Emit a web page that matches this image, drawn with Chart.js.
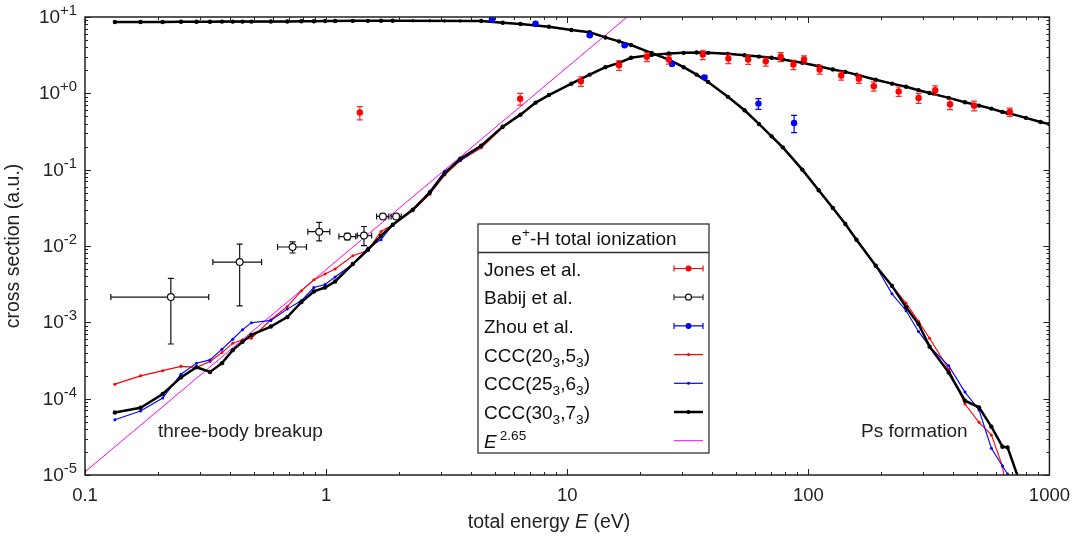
<!DOCTYPE html>
<html>
<head>
<meta charset="utf-8">
<title>e+-H total ionization</title>
<style>
  body { margin: 0; background: #fff; }
</style>
</head>
<body>
<canvas id="myChart" width="1080" height="536"></canvas>
<script src="https://cdn.jsdelivr.net/npm/chart.js@4.4.0/dist/chart.umd.min.js"></script>
<script>
// total energies (eV) of the CCC calculations
const energies = [0.133, 0.17, 0.21, 0.25, 0.29, 0.33, 0.37, 0.41, 0.45, 0.49,
  0.59, 0.69, 0.79, 0.89, 0.99, 1.09, 1.29, 1.49, 1.69, 1.89,
  2.29, 2.69, 3.1, 3.6, 4.4, 5.4, 6.4, 7.4, 8.4, 10.4,
  12.4, 14.4, 16.4, 18.4, 22.4, 26.4, 30.4, 34.4, 38.4, 46.4,
  54.4, 62.4, 70.4, 78.4, 94.4, 110.4, 126.4, 142.4, 158.4, 190.4,
  222.4, 254.4, 286.4, 318.4, 382.4, 446.4, 510.4, 574.4, 638.4, 670.4,
  798.4, 918.4, 1000];

// CCC(30,7) - ionization and Ps formation
const ion30 = [6.6e-5, 7.6e-5, 1.15e-4, 1.9e-4, 2.58e-4, 2.24e-4, 2.92e-4, 4.32e-4, 5.55e-4, 6.85e-4,
  8.8e-4, 1.17e-3, 1.84e-3, 2.54e-3, 2.86e-3, 3.43e-3, 5.8e-3, 8.9e-3, 1.36e-2, 1.9e-2,
  3.0e-2, 5.0e-2, 8.9e-2, 0.139, 0.206, 0.366, 0.526, 0.756, 0.949, 1.34,
  1.76, 2.2, 2.51, 2.92, 3.19, 3.32, 3.39, 3.42, 3.39, 3.29,
  3.15, 3.03, 2.92, 2.77, 2.51, 2.26, 2.05, 1.91, 1.76, 1.51,
  1.34, 1.22, 1.1, 1.01, 0.871, 0.763, 0.691, 0.631, 0.571, 0.554,
  0.477, 0.422, 0.395];
const ps30 = [8.6, 8.6, 8.6, 8.65, 8.65, 8.65, 8.7, 8.7, 8.7, 8.7,
  8.75, 8.75, 8.8, 8.8, 8.85, 8.85, 8.9, 8.9, 8.95, 8.95,
  null, null, null, null, 8.85, 8.4, 8.1, null, 7.45, 6.75,
  6.3, 5.4, 4.8, 4.3, 3.37, 2.77, 2.2, 1.76, 1.41, 0.9,
  0.6, 0.397, 0.273, 0.196, 0.1, 0.0538, 0.0315, 0.0194, 0.0121, 5.5e-3,
  3.0e-3, 1.58e-3, 9.5e-4, 4.8e-4, 2.2e-4, 9.4e-5, 7.7e-5, 4.3e-5, 2.35e-5, 2.3e-5,
  4.8e-6, null, null];

// CCC(20,5)
const ion20 = [1.55e-4, 1.99e-4, 2.33e-4, 2.65e-4, 2.57e-4, 3.06e-4, 4.02e-4, 5.33e-4, 5.9e-4, 6.2e-4,
  1.08e-3, 1.61e-3, 2.59e-3, 3.61e-3, 4.29e-3, 4.99e-3, 7.45e-3, 8.75e-3, 1.55e-2, 1.9e-2,
  2.9e-2, 4.77e-2, 8.5e-2, 0.131, 0.194, 0.355, 0.52, 0.75, 0.95, 1.33,
  1.76, 2.2, 2.5, 2.9, 3.18, 3.31, 3.38, 3.41, 3.38, 3.28,
  3.15, 3.03, 2.92, 2.77, 2.51, 2.26, 2.05, 1.91, 1.76, 1.51,
  1.34, 1.22, 1.1, 1.01, 0.871, 0.763, 0.691, 0.631, 0.571, 0.554,
  0.477, 0.422, 0.395];
const ps20 = [8.6, 8.6, 8.6, 8.65, 8.65, 8.65, 8.7, 8.7, 8.7, 8.7,
  8.75, 8.75, 8.8, 8.8, 8.85, 8.85, 8.9, 8.9, 8.95, 8.95,
  8.95, 8.95, 8.9, 8.9, 8.85, 8.4, 8.1, 7.8, 7.45, 6.75,
  6.3, 5.4, 4.8, 4.3, 3.37, 2.77, 2.2, 1.76, 1.41, 0.9,
  0.6, 0.397, 0.273, 0.196, 0.1, 0.0538, 0.0315, 0.0194, 0.0121, 5.5e-3,
  3.0e-3, 1.79e-3, 1.03e-3, 6.2e-4, 2.43e-4, 8.5e-5, 4.9e-5, 3.35e-5, 1.31e-5, 5e-6,
  null, null, null];

// CCC(25,6)
const ion25 = [5.3e-5, 6.9e-5, 1.02e-4, 2.09e-4, 2.92e-4, 3.22e-4, 4.45e-4, 6.0e-4, 8.0e-4, 9.9e-4,
  1.06e-3, 1.49e-3, 1.93e-3, 2.86e-3, 3.13e-3, 3.92e-3, 5.8e-3, 9.4e-3, 1.21e-2, 1.9e-2,
  3.0e-2, 5.2e-2, 9.5e-2, 0.132, 0.202, 0.366, 0.526, 0.756, 0.949, 1.34,
  1.76, 2.2, 2.51, 2.92, 3.19, 3.32, 3.39, 3.42, 3.39, 3.29,
  3.15, 3.03, 2.92, 2.77, 2.51, 2.26, 2.05, 1.91, 1.76, 1.51,
  1.34, 1.22, 1.1, 1.01, 0.871, 0.763, 0.691, 0.631, 0.571, 0.554,
  0.477, 0.422, 0.395];
const ps25 = [8.55, 8.55, 8.55, 8.6, 8.6, 8.6, 8.65, 8.65, 8.65, 8.65,
  8.7, 8.7, 8.75, 8.75, 8.8, 8.8, 8.85, 8.85, 8.9, 8.9,
  8.9, 8.9, 8.85, 8.85, 8.8, 8.4, 8.1, 7.8, 7.45, 6.75,
  6.3, 5.4, 4.8, 4.3, 3.37, 2.77, 2.2, 1.76, 1.41, 0.9,
  0.6, 0.397, 0.273, 0.196, 0.1, 0.0538, 0.0315, 0.0194, 0.0121, 5.5e-3,
  2.36e-3, 1.42e-3, 7.6e-4, 4.8e-4, 2.69e-4, 1.22e-4, 7.1e-5, 2.24e-5, 1.31e-5, 1.03e-5,
  3e-6, null, null];

// E^2.65 guide line (end points)
const powE = [0.1, 20];
const powS = [1.1e-5, 13.8];

// Jones et al.
const jonesE = [1.38, 6.38, 11.4, 16.4, 21.4, 26.4, 36.5, 46.6, 56.3, 66.6, 76.8, 86.7,
  96, 111.4, 136.9, 162, 186.9, 237, 286.7, 336, 387, 487, 685];
const jonesS = [0.56, 0.85, 1.44, 2.33, 3.01, 2.77, 3.22, 2.85, 2.77, 2.63, 3.01, 2.38,
  2.77, 2.05, 1.71, 1.55, 1.24, 1.06, 0.87, 1.1, 0.72, 0.69, 0.57];
const jonesErr = [0.11, 0.15, 0.21, 0.34, 0.4, 0.35, 0.45, 0.4, 0.38, 0.36, 0.4, 0.33,
  0.33, 0.27, 0.22, 0.2, 0.17, 0.15, 0.13, 0.15, 0.11, 0.1, 0.07];

// Babij et al.
const babijE = [0.227, 0.438, 0.726, 0.936, 1.225, 1.436, 1.72, 1.952];
const babijS = [2.14e-3, 6.16e-3, 9.7e-3, 1.54e-2, 1.33e-2, 1.37e-2, 2.44e-2, 2.44e-2];
const babijELo = [0.128, 0.339, 0.629, 0.84, 1.13, 1.347, 1.62, 1.86];
const babijEHi = [0.326, 0.54, 0.829, 1.036, 1.327, 1.545, 1.82, 2.05];
const babijSLo = [5.2e-4, 1.64e-3, 8.1e-3, 1.17e-2, 1.2e-2, 1.01e-2, 2.3e-2, 2.3e-2];
const babijSHi = [3.76e-3, 1.06e-2, 1.13e-2, 2.04e-2, 1.47e-2, 1.8e-2, 2.6e-2, 2.6e-2];

// Zhou et al.
const zhouE = [4.87, 7.39, 12.4, 17.3, 27.2, 37.1, 62.1, 87.3];
const zhouS = [9.18, 8.14, 5.77, 4.27, 2.43, 1.62, 0.734, 0.409];
const zhouErr = [0.3, 0.25, 0.2, 0.15, 0.1, 0.08, 0.117, 0.104];

const yTicks = [-5, -4, -3, -2, -1, 0, 1];

const FONT = '"Liberation Sans", Arial, Helvetica, sans-serif';
const RED = '#ff0000', BLUE = '#0000ff', MAG = '#ff00ff';
const TXT = 19;

function pairs(xs, ys) {
  let out = [];
  xs.forEach((x, i) => { if (ys[i] != null) out.push({x: x, y: ys[i]}) });
  return out;
}

function curve(label, ys, color, lw, pr, order) {
  return {
    label: label, data: pairs(energies, ys), showLine: true,
    borderColor: color, backgroundColor: color, borderWidth: lw,
    pointRadius: pr, pointBorderWidth: 0, pointHoverRadius: pr, order: order
  };
}

const errBars = {
  'Jones et al.': { color: 'rgba(255,0,0,0.85)', bars: jonesE.map((e, i) => ({x: e, y: jonesS[i], y0: jonesS[i] - jonesErr[i], y1: jonesS[i] + jonesErr[i]})) },
  'Zhou et al.': { color: BLUE, bars: zhouE.map((e, i) => ({x: e, y: zhouS[i], y0: zhouS[i] - zhouErr[i], y1: zhouS[i] + zhouErr[i]})) },
  'Babij et al.': { color: '#111', bars: babijE.map((e, i) => ({x: e, y: babijS[i], x0: babijELo[i], x1: babijEHi[i], y0: babijSLo[i], y1: babijSHi[i]})) }
};

// text with super/subscripts
function richWidth(ctx, parts, size) {
  let w = 0;
  parts.forEach(p => {
    ctx.font = (p.it ? 'italic ' : '') + (size * (p.s || 1)) + 'px ' + FONT;
    w += ctx.measureText(p.t).width + (p.gap || 0);
  });
  return w;
}
function drawRich(ctx, parts, x, y, size, align) {
  let w = richWidth(ctx, parts, size);
  if (align === 'right') x -= w;
  if (align === 'center') x -= w / 2;
  ctx.textAlign = 'left';
  ctx.textBaseline = 'alphabetic';
  parts.forEach(p => {
    ctx.font = (p.it ? 'italic ' : '') + (size * (p.s || 1)) + 'px ' + FONT;
    ctx.fillText(p.t, x, y + (p.dy || 0));
    x += ctx.measureText(p.t).width + (p.gap || 0);
  });
}

const errPlugin = {
  id: 'errbars',
  beforeDatasetDraw(chart, args) {
    const ds = chart.data.datasets[args.index];
    const eb = errBars[ds.label];
    if (!eb) return;
    const ctx = chart.ctx, xs = chart.scales.x, ys = chart.scales.y, c = 3;
    ctx.save();
    ctx.strokeStyle = eb.color;
    ctx.lineWidth = 1.2;
    ctx.beginPath();
    eb.bars.forEach(b => {
      const px = xs.getPixelForValue(b.x), py = ys.getPixelForValue(b.y);
      const a = ys.getPixelForValue(b.y0), t = ys.getPixelForValue(b.y1);
      ctx.moveTo(px, a); ctx.lineTo(px, t);
      ctx.moveTo(px - c, a); ctx.lineTo(px + c, a);
      ctx.moveTo(px - c, t); ctx.lineTo(px + c, t);
      if (b.x0 != null) {
        const l = xs.getPixelForValue(b.x0), r = xs.getPixelForValue(b.x1);
        ctx.moveTo(l, py); ctx.lineTo(r, py);
        ctx.moveTo(l, py - c); ctx.lineTo(l, py + c);
        ctx.moveTo(r, py - c); ctx.lineTo(r, py + c);
      }
    });
    ctx.stroke();
    ctx.restore();
  }
};

const decoPlugin = {
  id: 'deco',
  afterDraw(chart) {
    const ctx = chart.ctx, a = chart.chartArea, xs = chart.scales.x, ys = chart.scales.y;
    ctx.save();
    ctx.strokeStyle = '#222';
    ctx.lineWidth = 1;
    ctx.beginPath();
    // inside tick marks, mirrored on all four sides
    for (let d = -1; d <= 3; d++) {
      for (let m = 1; m <= 9; m++) {
        const v = m * Math.pow(10, d);
        if (v > 1000) break;
        const px = Math.round(xs.getPixelForValue(v)) + 0.5, len = m === 1 ? 6 : 3;
        ctx.moveTo(px, a.bottom); ctx.lineTo(px, a.bottom - len);
        ctx.moveTo(px, a.top); ctx.lineTo(px, a.top + len);
      }
    }
    for (let d = -5; d <= 1; d++) {
      for (let m = 1; m <= 9; m++) {
        const v = m * Math.pow(10, d);
        if (v > 10) break;
        const py = Math.round(ys.getPixelForValue(v)) + 0.5, len = m === 1 ? 6 : 3;
        ctx.moveTo(a.left, py); ctx.lineTo(a.left + len, py);
        ctx.moveTo(a.right, py); ctx.lineTo(a.right - len, py);
      }
    }
    ctx.stroke();
    ctx.lineWidth = 1.5;
    ctx.strokeRect(a.left, a.top, a.right - a.left, a.bottom - a.top);

    // y tick labels 10^k
    ctx.fillStyle = '#222';
    yTicks.forEach(k => {
      const py = ys.getPixelForValue(Math.pow(10, k));
      const sup = k > 0 ? '+' + k : (k === 0 ? '+0' : '-' + (-k));
      drawRich(ctx, [{t: '10'}, {t: sup, s: 0.78, dy: -8}], a.left - 8, py + 6, 19, 'right');
    });

    // axis titles
    drawRich(ctx, [{t: 'total energy '}, {t: 'E', it: true}, {t: ' (eV)'}], 549, 528, 19.5, 'center');
    ctx.save();
    ctx.translate(19, 246);
    ctx.rotate(-Math.PI / 2);
    drawRich(ctx, [{t: 'cross section (a.u.)'}], 0, 0, 19.5, 'center');
    ctx.restore();

    // annotations
    drawRich(ctx, [{t: 'three-body breakup'}], 158, 437, TXT, 'left');
    drawRich(ctx, [{t: 'Ps formation'}], 861, 437, TXT, 'left');

    // legend box
    const L = 478, R = 709, T = 224, B = 453;
    ctx.fillStyle = '#fff';
    ctx.fillRect(L, T, R - L, B - T);
    ctx.strokeStyle = '#333';
    ctx.lineWidth = 1.3;
    ctx.strokeRect(L, T, R - L, B - T);
    ctx.beginPath(); ctx.moveTo(L, 252.5); ctx.lineTo(R, 252.5); ctx.stroke();
    ctx.fillStyle = '#111';
    drawRich(ctx, [{t: 'e'}, {t: '+', s: 0.72, dy: -8}, {t: '-H total ionization'}], 594, 245, TXT, 'center');
    const rows = [
      {parts: [{t: 'Jones et al.'}], color: RED, err: true, r: 3, fill: RED},
      {parts: [{t: 'Babij et al.'}], color: '#333', err: true, r: 3, fill: '#fff'},
      {parts: [{t: 'Zhou et al.'}], color: BLUE, err: true, r: 3, fill: BLUE},
      {parts: [{t: 'CCC(20'}, {t: '3', s: 0.72, dy: 5}, {t: ',5'}, {t: '3', s: 0.72, dy: 5}, {t: ')'}], color: RED, lw: 1.2, r: 1.5, fill: RED},
      {parts: [{t: 'CCC(25'}, {t: '3', s: 0.72, dy: 5}, {t: ',6'}, {t: '3', s: 0.72, dy: 5}, {t: ')'}], color: BLUE, lw: 1.2, r: 1.5, fill: BLUE},
      {parts: [{t: 'CCC(30'}, {t: '3', s: 0.72, dy: 5}, {t: ',7'}, {t: '3', s: 0.72, dy: 5}, {t: ')'}], color: '#000', lw: 2.5, r: 2, fill: '#000'},
      {parts: [{t: 'E', it: true, gap: 3}, {t: '2.65', s: 0.72, dy: -8}], color: MAG, lw: 1, r: 0}
    ];
    rows.forEach((row, i) => {
      const cy = 268.5 + i * 28.7;
      ctx.fillStyle = '#111';
      drawRich(ctx, row.parts, 484, cy + 7, TXT, 'left');
      ctx.strokeStyle = row.color;
      ctx.lineWidth = row.lw || 1.2;
      ctx.beginPath();
      ctx.moveTo(674, cy); ctx.lineTo(703, cy);
      if (row.err) {
        ctx.moveTo(674, cy - 3); ctx.lineTo(674, cy + 3);
        ctx.moveTo(703, cy - 3); ctx.lineTo(703, cy + 3);
      }
      ctx.stroke();
      if (row.r) {
        ctx.beginPath();
        ctx.arc(688.5, cy, row.r, 0, Math.PI * 2);
        ctx.fillStyle = row.fill;
        ctx.fill();
        if (row.fill === '#fff') { ctx.lineWidth = 1.2; ctx.strokeStyle = '#111'; ctx.stroke(); }
      }
    });
    ctx.restore();
  }
};

const ctx = document.getElementById('myChart').getContext('2d');
const chart = new Chart(ctx, {
  type: 'scatter',
  data: {
    datasets: [
      {label: 'Jones et al.', data: pairs(jonesE, jonesS), backgroundColor: RED, borderWidth: 0, pointRadius: 3.2, order: 0},
      {label: 'Zhou et al.', data: pairs(zhouE, zhouS), backgroundColor: BLUE, borderWidth: 0, pointRadius: 3.2, order: 0},
      {label: 'Babij et al.', data: pairs(babijE, babijS), backgroundColor: '#fff', borderColor: '#111', pointBorderWidth: 1.2, pointRadius: 3.4, order: 0},
      curve('CCC(30,7)', ion30, '#000', 2.5, 2.2, 1),
      curve('CCC(30,7) Ps', ps30, '#000', 2.5, 2.2, 1),
      curve('CCC(25,6)', ion25, BLUE, 1.1, 1.5, 2),
      curve('CCC(25,6) Ps', ps25, BLUE, 1.1, 1.5, 2),
      curve('CCC(20,5)', ion20, RED, 1.1, 1.5, 3),
      curve('CCC(20,5) Ps', ps20, RED, 1.1, 1.5, 3),
      {label: 'E^2.65', data: pairs(powE, powS), showLine: true, borderColor: MAG, borderWidth: 1, pointRadius: 0, order: 4}
    ]
  },
  options: {
    responsive: false,
    animation: false,
    devicePixelRatio: 1,
    layout: { padding: { top: 17, right: 27, left: 0, bottom: 0 } },
    plugins: { legend: { display: false }, tooltip: { enabled: false } },
    scales: {
      x: {
        type: 'logarithmic', min: 0.1, max: 1000,
        grid: { display: false, drawTicks: false },
        border: { display: false },
        afterFit: s => { s.height = 61 },
        ticks: {
          autoSkip: false, maxRotation: 0, padding: 10, color: '#222',
          font: { family: FONT, size: 18.5 },
          callback: v => {
            const l = Math.log10(v);
            return Math.abs(l - Math.round(l)) < 1e-9 ? String(v) : '';
          }
        }
      },
      y: {
        type: 'logarithmic', min: 1e-5, max: 10,
        grid: { display: false, drawTicks: false },
        border: { display: false },
        ticks: { display: false },
        afterFit: s => { s.width = 85 }
      }
    }
  },
  plugins: [errPlugin, decoPlugin]
});
</script>
</body>
</html>
